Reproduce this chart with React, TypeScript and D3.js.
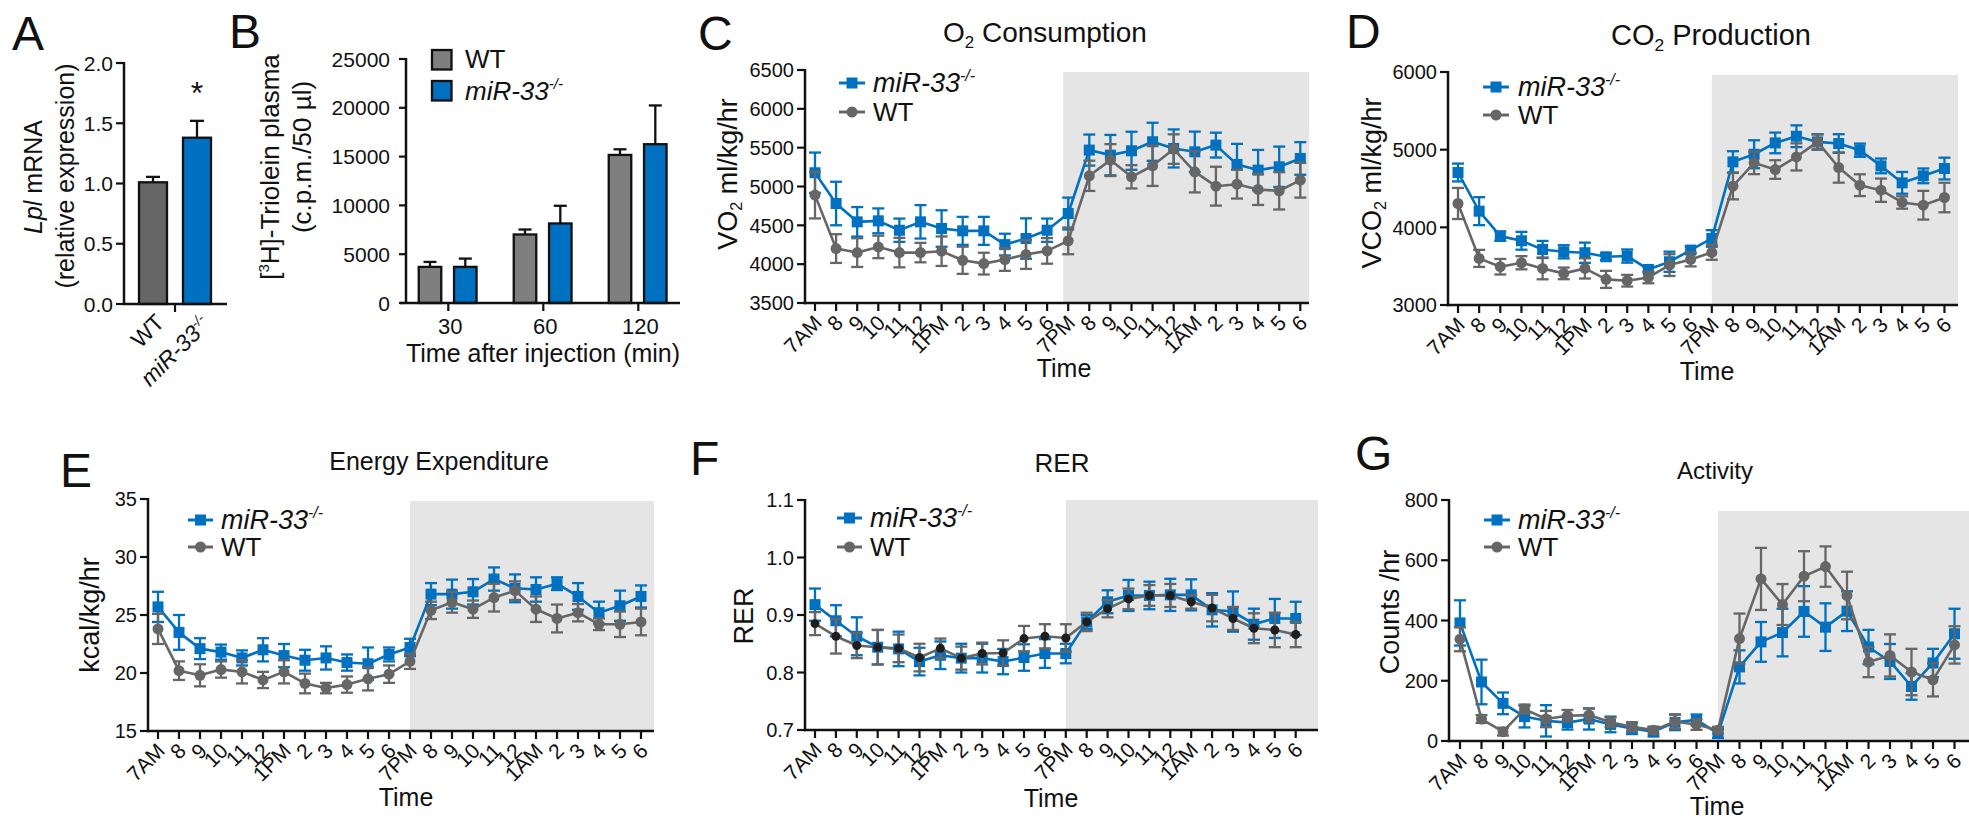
import React from "react";
import * as d3 from "d3";

const FONT = "'Liberation Sans', Arial, Helvetica, sans-serif";
const BLUE = "#0070c0";
const GRAY = "#666666";
const GRAY_B = "#7f7f7f";
const SHADE = "#e5e5e5";
const INK = "#111111";

// ---------- Panel A ----------
const lplGroups = ["WT", "miR-33"];
const lplMean = [1.01, 1.38];
const lplSem = [0.045, 0.14];
const lplTicks = [0, 0.5, 1.0, 1.5, 2.0];

// ---------- Panel B ----------
const trioGroups = ["30", "60", "120"];
const trioWt = [3700, 7020, 15170];
const trioWtSem = [510, 510, 580];
const trioMir = [3700, 8150, 16270];
const trioMirSem = [850, 1810, 3970];
const trioTicks = [0, 5000, 10000, 15000, 20000, 25000];

// ---------- Time series ----------
const TIME_LABELS = ["7AM", "8", "9", "10", "11", "12", "1PM", "2", "3", "4", "5", "6", "7PM", "8", "9", "10", "11", "12", "1AM", "2", "3", "4", "5", "6"];

const o2Mir = [5177, 4781, 4545, 4558, 4437, 4545, 4459, 4429, 4429, 4252, 4330, 4437, 4652, 5469, 5404, 5460, 5576, 5490, 5447, 5533, 5284, 5211, 5254, 5361];
const o2MirSem = [260, 280, 190, 160, 150, 215, 235, 180, 180, 140, 260, 150, 205, 200, 260, 245, 245, 245, 260, 160, 265, 260, 260, 210];
const o2Wt = [4889, 4201, 4149, 4222, 4149, 4149, 4167, 4050, 4007, 4059, 4124, 4171, 4300, 5138, 5340, 5125, 5267, 5482, 5189, 5004, 5030, 4962, 4944, 5082];
const o2WtSem = [300, 185, 185, 145, 190, 125, 190, 175, 140, 145, 185, 165, 172, 195, 205, 150, 260, 190, 265, 250, 185, 200, 240, 225];

const co2Mir = [4706, 4208, 3887, 3827, 3715, 3685, 3673, 3621, 3630, 3458, 3557, 3707, 3857, 4843, 4941, 5087, 5173, 5100, 5079, 4993, 4791, 4573, 4663, 4757];
const co2MirSem = [115, 180, 60, 115, 110, 85, 130, 45, 85, 35, 130, 45, 107, 137, 180, 133, 140, 100, 120, 85, 95, 140, 95, 140];
const co2Wt = [4307, 3600, 3493, 3544, 3471, 3407, 3471, 3330, 3313, 3355, 3514, 3587, 3677, 4530, 4830, 4744, 4907, 5100, 4770, 4543, 4478, 4320, 4285, 4384];
const co2WtSem = [200, 110, 100, 85, 140, 75, 130, 110, 75, 75, 140, 90, 95, 170, 145, 120, 175, 95, 195, 140, 150, 80, 185, 190];

const eeMir = [25.7, 23.5, 22.1, 21.8, 21.3, 22.0, 21.5, 21.1, 21.3, 20.9, 20.8, 21.6, 22.2, 26.8, 26.8, 27.0, 28.1, 27.3, 27.2, 27.7, 26.6, 25.2, 25.8, 26.6];
const eeMirSem = [1.3, 1.5, 0.9, 0.65, 0.65, 1.0, 1.0, 0.9, 1.0, 0.7, 1.4, 0.6, 0.75, 0.95, 1.25, 1.1, 1.0, 1.2, 1.05, 0.55, 1.15, 0.95, 1.3, 0.95];
const eeWt = [23.8, 20.2, 19.8, 20.3, 20.1, 19.4, 20.1, 19.1, 18.7, 19.0, 19.5, 19.9, 21.0, 25.4, 26.1, 25.5, 26.5, 27.1, 25.5, 24.7, 25.2, 24.2, 24.2, 24.4];
const eeWtSem = [1.3, 0.8, 0.95, 0.7, 1.0, 0.7, 1.0, 0.85, 0.45, 0.7, 1.0, 0.75, 0.65, 0.75, 0.9, 0.75, 1.2, 0.8, 1.1, 1.2, 0.75, 0.5, 1.1, 1.15];

const rerMir = [0.918, 0.890, 0.863, 0.844, 0.841, 0.819, 0.830, 0.825, 0.825, 0.819, 0.826, 0.833, 0.833, 0.888, 0.923, 0.934, 0.934, 0.935, 0.935, 0.909, 0.906, 0.884, 0.894, 0.894];
const rerMirSem = [0.028, 0.027, 0.033, 0.03, 0.03, 0.024, 0.024, 0.025, 0.025, 0.022, 0.023, 0.025, 0.017, 0.012, 0.02, 0.027, 0.024, 0.028, 0.027, 0.029, 0.035, 0.027, 0.034, 0.029];
const rerWt = [0.885, 0.863, 0.847, 0.844, 0.842, 0.826, 0.842, 0.825, 0.833, 0.834, 0.859, 0.863, 0.860, 0.888, 0.911, 0.928, 0.934, 0.934, 0.923, 0.912, 0.894, 0.877, 0.874, 0.866];
const rerWtSem = [0.02, 0.03, 0.022, 0.03, 0.024, 0.024, 0.017, 0.02, 0.019, 0.022, 0.022, 0.021, 0.024, 0.016, 0.015, 0.018, 0.018, 0.02, 0.012, 0.023, 0.02, 0.026, 0.03, 0.022];

const actMir = [392, 196, 125, 81, 67, 61, 73, 55, 42, 31, 62, 70, 25, 246, 329, 360, 430, 378, 431, 312, 264, 181, 259, 356];
const actMirSem = [75, 74, 36, 36, 52, 23, 35, 26, 19, 16, 26, 18, 15, 55, 66, 79, 84, 79, 66, 57, 58, 44, 47, 83];
const actWt = [338, 73, 31, 106, 73, 84, 86, 62, 47, 36, 64, 55, 36, 340, 538, 453, 547, 579, 483, 262, 284, 229, 203, 319];
const actWtSem = [40, 13, 13, 15, 27, 19, 22, 16, 15, 11, 24, 18, 11, 83, 103, 68, 83, 67, 79, 50, 70, 77, 55, 62];

type Legend = { x0: number; x1: number; yMir: number; yWt: number; tx: number };

type PanelProps = {
  letter: string;
  letterPos: [number, number];
  title: React.ReactNode;
  titlePos: [number, number];
  titleSize: number;
  yLabel: React.ReactNode;
  yLabelPos: [number, number];
  timePos: [number, number];
  axisX: number;
  yTop: number;
  yBot: number;
  domain: [number, number];
  tickStep: number;
  fmt: (v: number) => string;
  x0: number;
  step: number;
  shadeOffset: number;
  shadeTop: number;
  right: number;
  mir: number[];
  mirSem: number[];
  wt: number[];
  wtSem: number[];
  legend: Legend;
  wtDot?: string;
};

function Series(props: {
  vals: number[]; sems: number[]; x: (i: number) => number; y: (v: number) => number;
  color: string; marker: "square" | "circle"; markerFill: string;
}) {
  const { vals, sems, x, y, color, marker, markerFill } = props;
  const line = d3.line<number>().x((_, i) => x(i)).y((v) => y(v));
  const cap = 6;
  return (
    <g>
      <path d={line(vals) || ""} fill="none" stroke={color} strokeWidth={2.6} strokeLinejoin="round" />
      {vals.map((v, i) => {
        const cx = x(i);
        const hi = y(v + sems[i]);
        const lo = y(v - sems[i]);
        return (
          <g key={"e" + i} stroke={color} strokeWidth={2.3}>
            <line x1={cx} x2={cx} y1={hi} y2={lo} />
            <line x1={cx - cap} x2={cx + cap} y1={hi} y2={hi} />
            <line x1={cx - cap} x2={cx + cap} y1={lo} y2={lo} />
          </g>
        );
      })}
      {vals.map((v, i) =>
        marker === "square" ? (
          <rect key={"m" + i} x={x(i) - 5.5} y={y(v) - 5.5} width={11} height={11} fill={markerFill} />
        ) : (
          <circle key={"m" + i} cx={x(i)} cy={y(v)} r={markerFill === GRAY ? 5.5 : 4.5} fill={markerFill} />
        )
      )}
    </g>
  );
}

function LegendBlock({ lg }: { lg: Legend }) {
  const mx = (lg.x0 + lg.x1) / 2;
  return (
    <g>
      <line x1={lg.x0} x2={lg.x1} y1={lg.yMir} y2={lg.yMir} stroke={BLUE} strokeWidth={3} />
      <rect x={mx - 5.5} y={lg.yMir - 5.5} width={11} height={11} fill={BLUE} />
      <text x={lg.tx} y={lg.yMir + 9} fontSize={27} fontStyle="italic" fill={INK}>
        miR-33<tspan fontSize={16} dy={-11}>-/-</tspan>
      </text>
      <line x1={lg.x0} x2={lg.x1} y1={lg.yWt} y2={lg.yWt} stroke={GRAY} strokeWidth={3} />
      <circle cx={mx} cy={lg.yWt} r={5.5} fill={GRAY} />
      <text x={lg.tx} y={lg.yWt + 9} fontSize={26} fill={INK}>WT</text>
    </g>
  );
}

function TimePanel(p: PanelProps) {
  const n = TIME_LABELS.length;
  const y = d3.scaleLinear().domain(p.domain).range([p.yBot, p.yTop]);
  const x = d3.scaleLinear().domain([0, n - 1]).range([p.x0, p.x0 + p.step * (n - 1)]);
  const ticks = d3.range(p.domain[0], p.domain[1] + p.tickStep * 0.5, p.tickStep);
  const shadeStart = x(12) + p.shadeOffset;
  return (
    <g>
      <rect x={shadeStart} y={p.shadeTop} width={p.right - shadeStart} height={p.yBot - p.shadeTop} fill={SHADE} />
      <text x={p.letterPos[0]} y={p.letterPos[1]} fontSize={48} fill={INK}>{p.letter}</text>
      <text x={p.titlePos[0]} y={p.titlePos[1]} fontSize={p.titleSize} textAnchor="middle" fill={INK}>{p.title}</text>
      <text transform={`translate(${p.yLabelPos[0]},${p.yLabelPos[1]}) rotate(-90)`} textAnchor="middle" dy="0.36em" fontSize={27} fill={INK}>
        {p.yLabel}
      </text>
      <text x={p.timePos[0]} y={p.timePos[1]} fontSize={25} textAnchor="middle" fill={INK}>Time</text>
      {/* y axis */}
      <line x1={p.axisX} x2={p.axisX} y1={p.yTop - 1} y2={p.yBot + 1.2} stroke={INK} strokeWidth={2.5} />
      {ticks.map((t) => (
        <g key={"yt" + t}>
          <line x1={p.axisX - 8} x2={p.axisX} y1={y(t)} y2={y(t)} stroke={INK} strokeWidth={2.2} />
          <text x={p.axisX - 11} y={y(t)} dy="0.36em" textAnchor="end" fontSize={20} fill={INK}>{p.fmt(t)}</text>
        </g>
      ))}
      {/* x axis */}
      <line x1={p.axisX - 1.2} x2={p.right} y1={p.yBot} y2={p.yBot} stroke={INK} strokeWidth={2.5} />
      {TIME_LABELS.map((lab, i) => (
        <g key={"xt" + i}>
          <line x1={x(i)} x2={x(i)} y1={p.yBot} y2={p.yBot + 8} stroke={INK} strokeWidth={2.2} />
          <text transform={`translate(${x(i) + 3},${p.yBot + 16}) rotate(-45)`} textAnchor="end" dy="0.35em" fontSize={21} fill={INK}>
            {lab}
          </text>
        </g>
      ))}
      <Series vals={p.mir} sems={p.mirSem} x={x} y={y} color={BLUE} marker="square" markerFill={BLUE} />
      <Series vals={p.wt} sems={p.wtSem} x={x} y={y} color={GRAY} marker="circle" markerFill={p.wtDot || GRAY} />
      <LegendBlock lg={p.legend} />
    </g>
  );
}

function PanelA() {
  const y = d3.scaleLinear().domain([0, 2]).range([304, 63]);
  const x = d3.scalePoint<string>().domain(lplGroups).range([153, 197]);
  const fills = [GRAY, BLUE];
  const bw = 28;
  return (
    <g>
      <text x={12} y={50} fontSize={48} fill={INK}>A</text>
      <text transform="translate(33,177) rotate(-90)" textAnchor="middle" dy="0.36em" fontSize={25} fill={INK}>
        <tspan fontStyle="italic">Lpl</tspan> mRNA
      </text>
      <text transform="translate(65,176) rotate(-90)" textAnchor="middle" dy="0.36em" fontSize={25} fill={INK}>
        (relative expression)
      </text>
      {lplGroups.map((g, i) => {
        const cx = x(g) as number;
        const top = y(lplMean[i]);
        const eh = y(lplMean[i] + lplSem[i]);
        return (
          <g key={g}>
            <line x1={cx} x2={cx} y1={top} y2={eh} stroke={INK} strokeWidth={2.3} />
            <line x1={cx - 7} x2={cx + 7} y1={eh} y2={eh} stroke={INK} strokeWidth={2.3} />
            <rect x={cx - bw / 2} y={top} width={bw} height={y(0) - top} fill={fills[i]} stroke={INK} strokeWidth={2.3} />
          </g>
        );
      })}
      <text x={197} y={104} fontSize={32} textAnchor="middle" fill={INK}>*</text>
      <line x1={124} x2={124} y1={62} y2={305} stroke={INK} strokeWidth={2.5} />
      {lplTicks.map((t) => (
        <g key={t}>
          <line x1={116} x2={124} y1={y(t)} y2={y(t)} stroke={INK} strokeWidth={2.2} />
          <text x={113} y={y(t)} dy="0.36em" textAnchor="end" fontSize={21} fill={INK}>{d3.format(".1f")(t)}</text>
        </g>
      ))}
      <line x1={122.8} x2={227} y1={304} y2={304} stroke={INK} strokeWidth={2.5} />
      <line x1={175} x2={175} y1={304} y2={312} stroke={INK} strokeWidth={2.2} />
      <text transform={`translate(${(x("WT") as number) + 7},${318}) rotate(-45)`} textAnchor="end" dy="0.35em" fontSize={23} fill={INK}>WT</text>
      <text transform={`translate(${(x("miR-33") as number) + 9},${320}) rotate(-45)`} textAnchor="end" dy="0.35em" fontSize={23} fontStyle="italic" fill={INK}>
        miR-33<tspan fontSize={14} dy={-9}>-/-</tspan>
      </text>
    </g>
  );
}

function PanelB() {
  const y = d3.scaleLinear().domain([0, 25000]).range([303, 59]);
  const x = d3.scalePoint<string>().domain(trioGroups).range([448.3, 638.3]);
  const bw = 22.5;
  const bars = (vals: number[], sems: number[], off: number, fill: string) =>
    trioGroups.map((g, i) => {
      const cx = (x(g) as number) + off;
      const top = y(vals[i]);
      const eh = y(vals[i] + sems[i]);
      return (
        <g key={g + fill}>
          <line x1={cx} x2={cx} y1={top} y2={eh} stroke={INK} strokeWidth={2.3} />
          <line x1={cx - 6.5} x2={cx + 6.5} y1={eh} y2={eh} stroke={INK} strokeWidth={2.3} />
          <rect x={cx - bw / 2} y={top} width={bw} height={y(0) - top} fill={fill} stroke={INK} strokeWidth={2.3} />
        </g>
      );
    });
  return (
    <g>
      <text x={229} y={48} fontSize={48} fill={INK}>B</text>
      <text transform="translate(270,167) rotate(-90)" textAnchor="middle" dy="0.36em" fontSize={26} fill={INK}>
        [<tspan fontSize={15} dy={-10}>3</tspan><tspan dy={10}>H]-Triolein plasma</tspan>
      </text>
      <text transform="translate(302,157) rotate(-90)" textAnchor="middle" dy="0.36em" fontSize={26} fill={INK}>
        (c.p.m./50 µl)
      </text>
      {bars(trioWt, trioWtSem, -18.3, GRAY_B)}
      {bars(trioMir, trioMirSem, 17, BLUE)}
      <line x1={406} x2={406} y1={58} y2={304} stroke={INK} strokeWidth={2.5} />
      {trioTicks.map((t) => (
        <g key={t}>
          <line x1={399} x2={406} y1={y(t)} y2={y(t)} stroke={INK} strokeWidth={2.2} />
          <text x={390} y={y(t)} dy="0.36em" textAnchor="end" fontSize={21} fill={INK}>{t}</text>
        </g>
      ))}
      <line x1={400} x2={680} y1={303} y2={303} stroke={INK} strokeWidth={2.5} />
      {trioGroups.map((g) => (
        <g key={g}>
          <line x1={x(g) as number} x2={x(g) as number} y1={303} y2={311} stroke={INK} strokeWidth={2.2} />
          <text x={(x(g) as number) + 2} y={334} textAnchor="middle" fontSize={22} fill={INK}>{g}</text>
        </g>
      ))}
      <text x={543} y={362} textAnchor="middle" fontSize={25} fill={INK}>Time after injection (min)</text>
      <rect x={432} y={50} width={19.5} height={19.5} fill={GRAY_B} stroke={INK} strokeWidth={2.3} />
      <rect x={432} y={81} width={19.5} height={19.5} fill={BLUE} stroke={INK} strokeWidth={2.3} />
      <text x={465} y={68} fontSize={26} fill={INK}>WT</text>
      <text x={465} y={100} fontSize={26} fontStyle="italic" fill={INK}>
        miR-33<tspan fontSize={15} dy={-11}>-/-</tspan>
      </text>
    </g>
  );
}

const sub = (s: string) => (
  <>
    <tspan fontSize="0.6em" dy="0.35em">{s}</tspan>
    <tspan dy="-0.21em"> </tspan>
  </>
);

export default function App() {
  const intFmt = (v: number) => String(v);
  const rerFmt = d3.format(".1f");
  return (
    <svg width={1969} height={822} style={{ position: "absolute", left: 0, top: 0, display: "block" }} fontFamily={FONT}>
      <rect width={1969} height={822} fill="#ffffff" />
      <PanelA />
      <PanelB />
      <TimePanel
        letter="C" letterPos={[698, 50]}
        title={<>O{sub("2")}Consumption</>} titlePos={[1045, 42]} titleSize={28}
        yLabel={<>VO{sub("2")}ml/kg/hr</>} yLabelPos={[727, 174]}
        timePos={[1064, 377]}
        axisX={805} yTop={70} yBot={303} domain={[3500, 6500]} tickStep={500} fmt={intFmt}
        x0={815} step={21.1} shadeOffset={-5} shadeTop={72} right={1309}
        mir={o2Mir} mirSem={o2MirSem} wt={o2Wt} wtSem={o2WtSem}
        legend={{ x0: 839, x1: 865, yMir: 83, yWt: 112, tx: 873 }}
      />
      <TimePanel
        letter="D" letterPos={[1346, 48]}
        title={<>CO{sub("2")}Production</>} titlePos={[1711, 45]} titleSize={29}
        yLabel={<>VCO{sub("2")}ml/kg/hr</>} yLabelPos={[1371, 183]}
        timePos={[1707, 380]}
        axisX={1448} yTop={72} yBot={305} domain={[3000, 6000]} tickStep={1000} fmt={intFmt}
        x0={1458} step={21.15} shadeOffset={0} shadeTop={75} right={1958}
        mir={co2Mir} mirSem={co2MirSem} wt={co2Wt} wtSem={co2WtSem}
        legend={{ x0: 1483, x1: 1509, yMir: 87, yWt: 115, tx: 1518 }}
      />
      <TimePanel
        letter="E" letterPos={[60, 487]}
        title={<>Energy Expenditure</>} titlePos={[439, 470]} titleSize={25}
        yLabel={<>kcal/kg/hr</>} yLabelPos={[89, 615]}
        timePos={[406, 806]}
        axisX={148} yTop={499} yBot={731} domain={[15, 35]} tickStep={5} fmt={intFmt}
        x0={158} step={21.0} shadeOffset={0} shadeTop={501} right={654}
        mir={eeMir} mirSem={eeMirSem} wt={eeWt} wtSem={eeWtSem}
        legend={{ x0: 188, x1: 213, yMir: 520, yWt: 547, tx: 221 }}
      />
      <TimePanel
        letter="F" letterPos={[690, 475]}
        title={<>RER</>} titlePos={[1062, 472]} titleSize={26}
        yLabel={<>RER</>} yLabelPos={[743, 616]}
        timePos={[1051, 807]}
        axisX={805} yTop={500} yBot={730} domain={[0.7, 1.1]} tickStep={0.1} fmt={rerFmt}
        x0={815} step={20.9} shadeOffset={0} shadeTop={500} right={1318}
        mir={rerMir} mirSem={rerMirSem} wt={rerWt} wtSem={rerWtSem}
        legend={{ x0: 837, x1: 862, yMir: 518, yWt: 547, tx: 870 }}
        wtDot="#1e1e1e"
      />
      <TimePanel
        letter="G" letterPos={[1355, 470]}
        title={<>Activity</>} titlePos={[1715, 479]} titleSize={24}
        yLabel={<>Counts /hr</>} yLabelPos={[1389, 612]}
        timePos={[1717, 815]}
        axisX={1449} yTop={500} yBot={741} domain={[0, 800]} tickStep={200} fmt={intFmt}
        x0={1460} step={21.5} shadeOffset={0} shadeTop={511} right={1969}
        mir={actMir} mirSem={actMirSem} wt={actWt} wtSem={actWtSem}
        legend={{ x0: 1484, x1: 1510, yMir: 520, yWt: 547, tx: 1518 }}
      />
    </svg>
  );
}
